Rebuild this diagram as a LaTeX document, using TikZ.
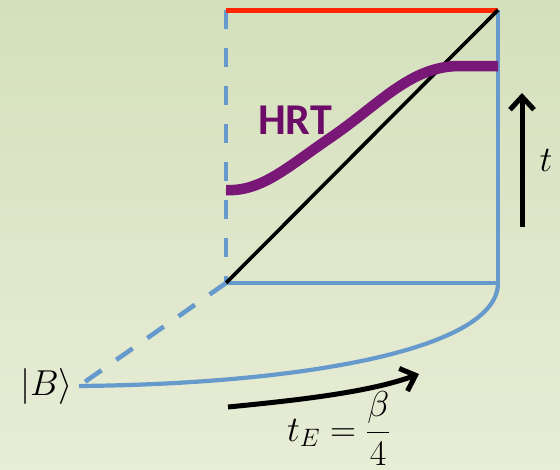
\RequirePackage{fix-cm}
\documentclass[tikz,border=0pt]{standalone}
\usepackage{amsmath}
\usepackage{fontspec}
\newfontfamily\hrtfont{Carlito}
\usetikzlibrary{arrows.meta}
\definecolor{bgtop}{RGB}{212,224,188}
\definecolor{bgbot}{RGB}{232,237,214}
\definecolor{edgeblue}{RGB}{102,153,204}
\definecolor{horizred}{RGB}{255,38,0}
\definecolor{hrtpurple}{RGB}{122,24,120}
\definecolor{hrttext}{RGB}{108,12,104}
\tikzset{
  blueline/.style={draw=edgeblue, line width=4.2pt},
  bluedash/.style={draw=edgeblue, line width=4.6pt, dash pattern=on 19pt off 19pt},
  redline/.style={draw=horizred, line width=5pt},
  diag/.style={draw=black, line width=3.6pt},
  hrtcurve/.style={draw=hrtpurple, line width=10.5pt},
  bigarrow/.style={draw=black, line width=5pt, -{Straight Barb[length=13pt,width=24pt]}},
  mathlabel/.style={font=\fontsize{36}{40}\selectfont, inner sep=0pt},
}
\begin{document}
\begin{tikzpicture}[x=1pt,y=-1pt]
\shade[top color=bgtop, bottom color=bgbot] (0,0) rectangle (560,469);
\useasboundingbox (0,0) rectangle (560,469);
% corners
\coordinate (tl) at (226,10);
\coordinate (tr) at (498,10);
\coordinate (bl) at (226,283);
\coordinate (br) at (498,283);
\coordinate (bstate) at (79,386);
% square
\draw[bluedash] (tl) -- (bl);
\draw[blueline] (tr) -- (br);
\draw[blueline] (bl) -- (br);
\draw[redline] (tl) -- (tr);
\draw[diag] (bl) -- (tr);
% HRT surface
\coordinate (hrtL) at (226,190);
\coordinate (hrtM) at (330,138);
\coordinate (hrtF) at (460,66);
\coordinate (hrtR) at (498,66);
\draw[hrtcurve] (hrtL) .. controls (262,192) and (290,165) .. (hrtM)
  .. controls (380,104) and (410,66) .. (hrtF) -- (hrtR);
\node[text=hrttext, font=\hrtfont\bfseries\fontsize{44}{48}\selectfont, inner sep=0pt] (hrt) at (295,120) {HRT};
% Euclidean part
\draw[bluedash, dash pattern=on 20pt off 18pt] (bl) -- (bstate);
\draw[blueline] (bstate) .. controls (300,384) and (498,350) .. (br);
\node[mathlabel, anchor=east] (B) at (73,386) {$|B\rangle$};
% time arrow
\coordinate (tbot) at (522,227);
\coordinate (ttop) at (522,93);
\draw[bigarrow] (tbot) -- (ttop);
\node[mathlabel] (tlab) at (546,160) {$t$};
% Euclidean time arrow
\coordinate (eA) at (228,407);
\coordinate (eB) at (419,374);
\draw[bigarrow] (eA) .. controls (300,400) and (370,392) .. (eB);
\node[mathlabel, anchor=base west] (tE) at (287,441) {$t_E=\dfrac{\beta}{4}$};
\end{tikzpicture}
\end{document}
